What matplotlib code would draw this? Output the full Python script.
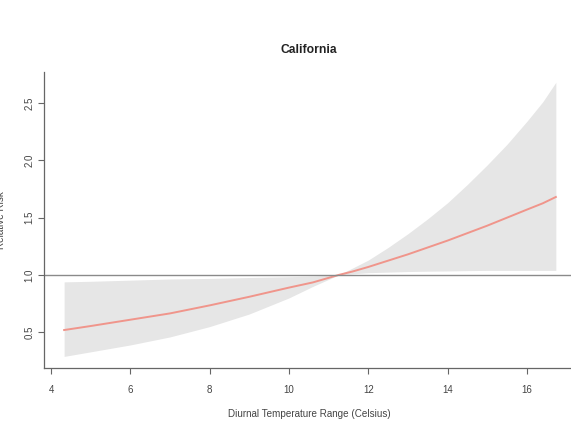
import matplotlib.pyplot as plt
import numpy as np

plt.rcParams['font.family'] = ['Liberation Sans', 'DejaVu Sans']

# values
dtr = [4.33, 5, 6, 7, 8, 9, 10, 10.6, 11.25, 11.6, 12, 12.5, 13, 13.5,
       14, 14.5, 15, 15.5, 16, 16.4, 16.73]
rr = [0.52, 0.555, 0.61, 0.665, 0.735, 0.81, 0.89, 0.935, 1.0, 1.03, 1.07, 1.125, 1.18, 1.24,
      1.30, 1.365, 1.43, 1.50, 1.57, 1.625, 1.68]
rr_low = [0.29, 0.33, 0.39, 0.46, 0.55, 0.66, 0.80, 0.90, 1.0, 1.01, 1.02, 1.025, 1.03, 1.033,
          1.035, 1.038, 1.04, 1.04, 1.04, 1.04, 1.04]
rr_high = [0.94, 0.945, 0.955, 0.965, 0.97, 0.978, 0.985, 0.99, 1.0, 1.06, 1.13, 1.24, 1.36, 1.49,
           1.63, 1.79, 1.96, 2.14, 2.34, 2.51, 2.68]
xticks = [4, 6, 8, 10, 12, 14, 16]
yticks = [0.5, 1.0, 1.5, 2.0, 2.5]

fig = plt.figure(figsize=(5.71, 4.28), dpi=100)
ax = fig.add_axes([0.0771, 0.1402, 0.929, 0.6916])

ax.fill_between(dtr, rr_low, rr_high, color='#e6e6e6', linewidth=0)
ax.plot(dtr, rr, color='#f0958b', lw=1.4)
ax.axhline(1.0, color='#8a8a8a', lw=1.0)

ax.set_xlim(3.823, 17.2)
ax.set_ylim(0.189, 2.77)
ax.set_xticks(xticks)
ax.set_yticks(yticks)
ax.set_yticklabels([f'{v:.1f}' for v in yticks], rotation=90, va='center')

for s in ['top', 'right']:
    ax.spines[s].set_visible(False)
for s in ['left', 'bottom']:
    ax.spines[s].set_color('#666666')
    ax.spines[s].set_linewidth(0.9)
ax.tick_params(colors='#666666', labelcolor='#444444', labelsize=7,
               length=4, width=0.8)
ax.tick_params(axis='x', pad=8)
ax.tick_params(axis='y', pad=3)

ax.set_title('California', fontsize=8.7, fontweight='bold', color='#222222', pad=14)
ax.set_xlabel('Diurnal Temperature Range (Celsius)', fontsize=7.1, color='#444444', labelpad=10)
fig.text(1 / 571, 1 - 220 / 428, 'Relative Risk', rotation=90, ha='center', va='center',
         fontsize=7.1, color='#444444')

plt.savefig('out.png', dpi=100)
